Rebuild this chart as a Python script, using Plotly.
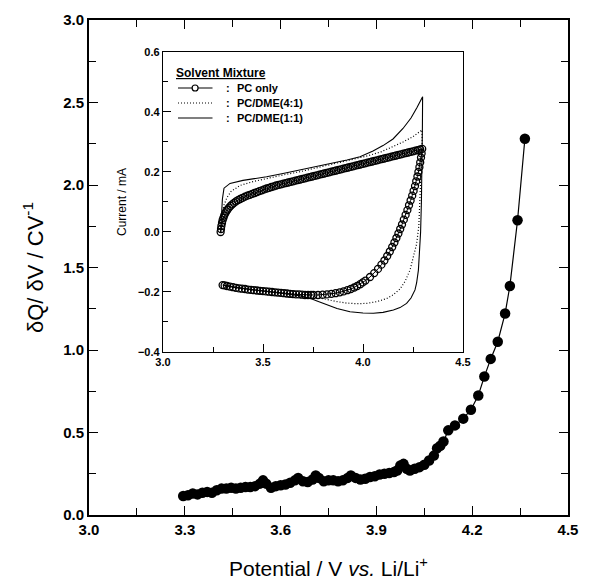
import plotly.graph_objects as go

# ---- main curve: dQ/dV vs potential ----
main_v = [3.295, 3.31, 3.325, 3.34, 3.355, 3.37, 3.385, 3.40, 3.415, 3.43, 3.445, 3.46, 3.475, 3.49,
          3.505, 3.52, 3.535, 3.545, 3.555, 3.57, 3.585, 3.60, 3.615, 3.63, 3.645, 3.655, 3.67, 3.685,
          3.70, 3.71, 3.72, 3.735, 3.75, 3.765, 3.78, 3.795, 3.81, 3.82, 3.835, 3.85, 3.865, 3.88,
          3.895, 3.91, 3.925, 3.94, 3.955, 3.965, 3.975, 3.985, 3.995, 4.005, 4.02, 4.035, 4.05,
          4.065, 4.08, 4.09, 4.10, 4.11, 4.125, 4.146, 4.172, 4.196, 4.219, 4.238, 4.258, 4.28,
          4.303, 4.318, 4.342, 4.365]
main_dq = [0.115, 0.12, 0.13, 0.125, 0.135, 0.14, 0.135, 0.15, 0.16, 0.16, 0.165, 0.16, 0.165, 0.17,
           0.17, 0.175, 0.19, 0.21, 0.19, 0.165, 0.175, 0.18, 0.185, 0.195, 0.21, 0.225, 0.205, 0.20,
           0.215, 0.24, 0.225, 0.205, 0.21, 0.21, 0.205, 0.21, 0.225, 0.24, 0.225, 0.215, 0.22, 0.23,
           0.235, 0.245, 0.25, 0.255, 0.26, 0.27, 0.30, 0.31, 0.28, 0.27, 0.28, 0.29, 0.305,
           0.33, 0.36, 0.405, 0.42, 0.445, 0.513, 0.543, 0.584, 0.638, 0.724, 0.839, 0.946, 1.05,
           1.221, 1.388, 1.786, 2.28]

# ---- inset: cyclic voltammograms (PC only, dense open circles) ----
pc_v = [3.288, 3.290, 3.292, 3.295, 3.298, 3.302, 3.306, 3.311, 3.317, 3.323, 3.330, 3.338, 3.346,
        3.355, 3.365, 3.375, 3.386, 3.398, 3.410, 3.422, 3.434, 3.446, 3.458, 3.470, 3.482, 3.494,
        3.506, 3.518, 3.530, 3.542, 3.554, 3.566, 3.578, 3.590, 3.602, 3.614, 3.626, 3.638, 3.650,
        3.662, 3.674, 3.686, 3.698, 3.710, 3.722, 3.734, 3.746, 3.758, 3.770, 3.782, 3.794, 3.806,
        3.818, 3.830, 3.842, 3.854, 3.866, 3.878, 3.890, 3.902, 3.914, 3.926, 3.938, 3.950, 3.962,
        3.974, 3.986, 3.998, 4.010, 4.022, 4.034, 4.046, 4.058, 4.070, 4.082, 4.094, 4.106, 4.118,
        4.130, 4.142, 4.154, 4.166, 4.178, 4.190, 4.202, 4.214, 4.226, 4.238, 4.250, 4.262, 4.274,
        4.286, 4.296,
        4.293, 4.290, 4.286, 4.282, 4.277, 4.272, 4.266, 4.260, 4.253, 4.246, 4.238, 4.230, 4.222,
        4.213, 4.204, 4.195, 4.186, 4.177, 4.167, 4.157, 4.146, 4.134, 4.121, 4.107, 4.092, 4.075,
        4.056, 4.035, 4.012, 3.999, 3.986, 3.971, 3.956, 3.939, 3.922, 3.903, 3.884, 3.863, 3.842,
        3.820, 3.798, 3.775, 3.752, 3.740, 3.725, 3.710, 3.695, 3.680, 3.665, 3.650, 3.635, 3.620,
        3.605, 3.590, 3.575, 3.560, 3.545, 3.530, 3.515, 3.500, 3.485, 3.470, 3.455, 3.440, 3.425,
        3.410, 3.395, 3.380, 3.365, 3.350, 3.335, 3.320, 3.308, 3.298]
pc_i = [0.000, 0.010, 0.020, 0.030, 0.039, 0.047, 0.055, 0.062, 0.069, 0.075, 0.081, 0.087, 0.092,
        0.097, 0.102, 0.106, 0.110, 0.114, 0.118, 0.121, 0.124, 0.127, 0.130, 0.133, 0.136, 0.139,
        0.142, 0.145, 0.147, 0.150, 0.152, 0.155, 0.157, 0.159, 0.161, 0.163, 0.165, 0.167, 0.169,
        0.171, 0.173, 0.175, 0.177, 0.179, 0.181, 0.183, 0.185, 0.187, 0.189, 0.191, 0.193, 0.195,
        0.197, 0.199, 0.201, 0.203, 0.205, 0.207, 0.209, 0.211, 0.213, 0.215, 0.217, 0.219, 0.221,
        0.223, 0.225, 0.227, 0.229, 0.231, 0.233, 0.235, 0.237, 0.239, 0.241, 0.243, 0.245, 0.247,
        0.249, 0.251, 0.253, 0.255, 0.257, 0.259, 0.261, 0.263, 0.265, 0.267, 0.269, 0.271, 0.273,
        0.275, 0.277,
        0.262, 0.248, 0.232, 0.216, 0.200, 0.185, 0.169, 0.153, 0.137, 0.121, 0.105, 0.089, 0.073,
        0.057, 0.041, 0.025, 0.010, -0.005, -0.020, -0.035, -0.050, -0.065, -0.080, -0.095, -0.109, -0.123,
        -0.137, -0.150, -0.162, -0.168, -0.174, -0.180, -0.185, -0.190, -0.194, -0.198, -0.201, -0.204, -0.206,
        -0.208, -0.209, -0.210, -0.210, -0.210, -0.210, -0.210, -0.209, -0.208, -0.208, -0.207, -0.206, -0.205,
        -0.204, -0.203, -0.202, -0.201, -0.200, -0.199, -0.198, -0.197, -0.196, -0.195, -0.194, -0.193, -0.192,
        -0.190, -0.189, -0.188, -0.186, -0.184, -0.182, -0.180, -0.178, -0.177]

dme41_v = [3.288, 3.295, 3.305, 3.320, 3.340, 3.385, 3.450, 3.518, 3.600, 3.685, 3.770, 3.850, 3.930,
           4.018, 4.090, 4.150, 4.200, 4.250, 4.280, 4.295,
           4.296, 4.292, 4.289, 4.285, 4.279, 4.268, 4.250, 4.235, 4.210, 4.185, 4.150, 4.118, 4.070,
           4.018, 3.970, 3.918, 3.870, 3.818, 3.770, 3.720, 3.600, 3.450, 3.300]
dme41_i = [0.000, 0.050, 0.090, 0.115, 0.135, 0.155, 0.168, 0.179, 0.190, 0.201, 0.214, 0.228, 0.240,
           0.253, 0.267, 0.284, 0.300, 0.318, 0.332, 0.340,
           0.300, 0.230, 0.150, 0.080, 0.020, -0.040, -0.090, -0.127, -0.165, -0.190, -0.210, -0.222, -0.232,
           -0.238, -0.239, -0.237, -0.232, -0.226, -0.218, -0.212, -0.204, -0.193, -0.177]

dme11_v = [3.288, 3.292, 3.297, 3.305, 3.335, 3.400, 3.518, 3.600, 3.685, 3.770, 3.850, 3.920, 3.985,
           4.050, 4.100, 4.150, 4.200, 4.240, 4.270, 4.298,
           4.297, 4.295, 4.292, 4.288, 4.283, 4.277, 4.268, 4.260, 4.240, 4.218, 4.185, 4.152, 4.100,
           4.052, 4.000, 3.935, 3.870, 3.818, 3.770, 3.735, 3.680, 3.600, 3.450, 3.300]
dme11_i = [0.000, 0.060, 0.110, 0.146, 0.162, 0.172, 0.184, 0.195, 0.207, 0.218, 0.229, 0.240, 0.251,
           0.270, 0.288, 0.310, 0.345, 0.380, 0.415, 0.451,
           0.350, 0.200, 0.100, 0.000, -0.080, -0.127, -0.170, -0.193, -0.220, -0.238, -0.252, -0.260, -0.268,
           -0.271, -0.270, -0.266, -0.255, -0.243, -0.230, -0.221, -0.212, -0.205, -0.193, -0.177]

legend_title = "Solvent Mixture"
legend_names = ["PC only", "PC/DME(4:1)", "PC/DME(1:1)"]

FONT = "Liberation Sans, Arial, Helvetica, sans-serif"

fig = go.Figure()

fig.add_trace(go.Scatter(
    x=main_v, y=main_dq, mode="lines+markers",
    line=dict(color="black", width=1.2),
    marker=dict(symbol="circle", size=10.5, color="black"),
    showlegend=False, xaxis="x", yaxis="y"))

fig.add_trace(go.Scatter(
    x=pc_v, y=pc_i, mode="lines+markers", name=legend_names[0],
    line=dict(color="black", width=1),
    marker=dict(symbol="circle-open", size=7, color="black", line=dict(width=1.3)),
    showlegend=False, xaxis="x2", yaxis="y2"))

fig.add_trace(go.Scatter(
    x=dme41_v, y=dme41_i, mode="lines", name=legend_names[1],
    line=dict(color="black", width=1.2, dash="1px,2px"),
    showlegend=False, xaxis="x2", yaxis="y2"))

fig.add_trace(go.Scatter(
    x=dme11_v, y=dme11_i, mode="lines", name=legend_names[2],
    line=dict(color="black", width=1.1),
    showlegend=False, xaxis="x2", yaxis="y2"))

# ---- manual legend inside the inset (inset-domain coordinates) ----
leg_rows = [0.88, 0.83, 0.78]
leg_dash = ["solid", "1px,2px", "solid"]
shapes = []
annotations = []
annotations.append(dict(
    xref="x2 domain", yref="y2 domain", x=0.035, y=0.93, xanchor="left", yanchor="middle",
    text=legend_title, showarrow=False,
    font=dict(family=FONT, size=12, color="black", weight="bold", lineposition="under")))
for yy, nm, ds in zip(leg_rows, legend_names, leg_dash):
    shapes.append(dict(type="line", xref="x2 domain", yref="y2 domain",
                       x0=0.05, x1=0.165, y0=yy, y1=yy,
                       line=dict(color="black", width=1.2 if ds != "solid" else 1.1, dash=ds)))
    annotations.append(dict(
        xref="x2 domain", yref="y2 domain", x=0.215, y=yy, xanchor="center", yanchor="middle",
        text=":", showarrow=False, font=dict(family=FONT, size=11, color="black", weight="bold")))
    annotations.append(dict(
        xref="x2 domain", yref="y2 domain", x=0.24, y=yy, xanchor="left", yanchor="middle",
        text=nm, showarrow=False, font=dict(family=FONT, size=11, color="black", weight="bold")))
shapes.append(dict(type="circle", xref="x2 domain", yref="y2 domain",
                   x0=0.097, x1=0.117, y0=leg_rows[0] - 0.01, y1=leg_rows[0] + 0.01,
                   line=dict(color="black", width=1.2), fillcolor="white"))

tick_main = dict(family=FONT, size=15, color="black", weight="bold")
tick_in = dict(family=FONT, size=11, color="black", weight="bold")

# page body adds an 8px offset; the figure is sized so the plot area lands where the reference has it
fig.update_layout(
    width=598, height=580,
    margin=dict(l=81, r=38, t=12, b=73),
    paper_bgcolor="white", plot_bgcolor="white",
    font=dict(family=FONT, color="black"),
    shapes=shapes, annotations=annotations,
    showlegend=False,
    xaxis=dict(
        domain=[0, 1], anchor="y", range=[3.0, 4.5], automargin=False,
        tick0=3.0, dtick=0.3, tickformat=".1f",
        ticks="inside", ticklen=9, tickwidth=1.2, tickcolor="black",
        minor=dict(dtick=0.15, ticks="inside", ticklen=7, tickwidth=1.2, tickcolor="black"),
        showline=True, linecolor="black", linewidth=1.8, mirror="ticks",
        showgrid=False, zeroline=False, tickfont=tick_main,
        title=dict(text="Potential / V <i>vs.</i> Li/Li<sup>+</sup>",
                   font=dict(family=FONT, size=21, color="black"), standoff=24)),
    yaxis=dict(
        domain=[0, 1], anchor="x", range=[0, 3.0], automargin=False,
        tick0=0, dtick=0.5, tickformat=".1f",
        ticks="inside", ticklen=9, tickwidth=1.2, tickcolor="black",
        minor=dict(dtick=0.25, ticks="inside", ticklen=7, tickwidth=1.2, tickcolor="black"),
        showline=True, linecolor="black", linewidth=1.8, mirror="ticks",
        showgrid=False, zeroline=False, tickfont=tick_main,
        title=dict(text="δQ/ δV / CV<sup>-1</sup>",
                   font=dict(family=FONT, size=22, color="black"), standoff=14)),
    xaxis2=dict(
        domain=[0.1545, 0.7808], anchor="y2", range=[3.0, 4.5], automargin=False,
        tick0=3.0, dtick=0.5, tickformat=".1f",
        ticks="inside", ticklen=8, tickwidth=1, tickcolor="black",
        minor=dict(dtick=0.25, ticks="inside", ticklen=5, tickwidth=1, tickcolor="black"),
        showline=True, linecolor="black", linewidth=1.3, mirror=True,
        showgrid=False, zeroline=False, tickfont=tick_in),
    yaxis2=dict(
        domain=[0.3293, 0.9354], anchor="x2", range=[-0.4, 0.6], automargin=False,
        tick0=-0.4, dtick=0.2, tickformat=".1f",
        ticks="inside", ticklen=8, tickwidth=1, tickcolor="black",
        minor=dict(dtick=0.1, ticks="inside", ticklen=5, tickwidth=1, tickcolor="black"),
        showline=True, linecolor="black", linewidth=1.3, mirror=True,
        showgrid=False, zeroline=False, tickfont=tick_in,
        title=dict(text="Current / mA", font=dict(family=FONT, size=12, color="black"), standoff=8)),
)

fig.write_html("out.html")
